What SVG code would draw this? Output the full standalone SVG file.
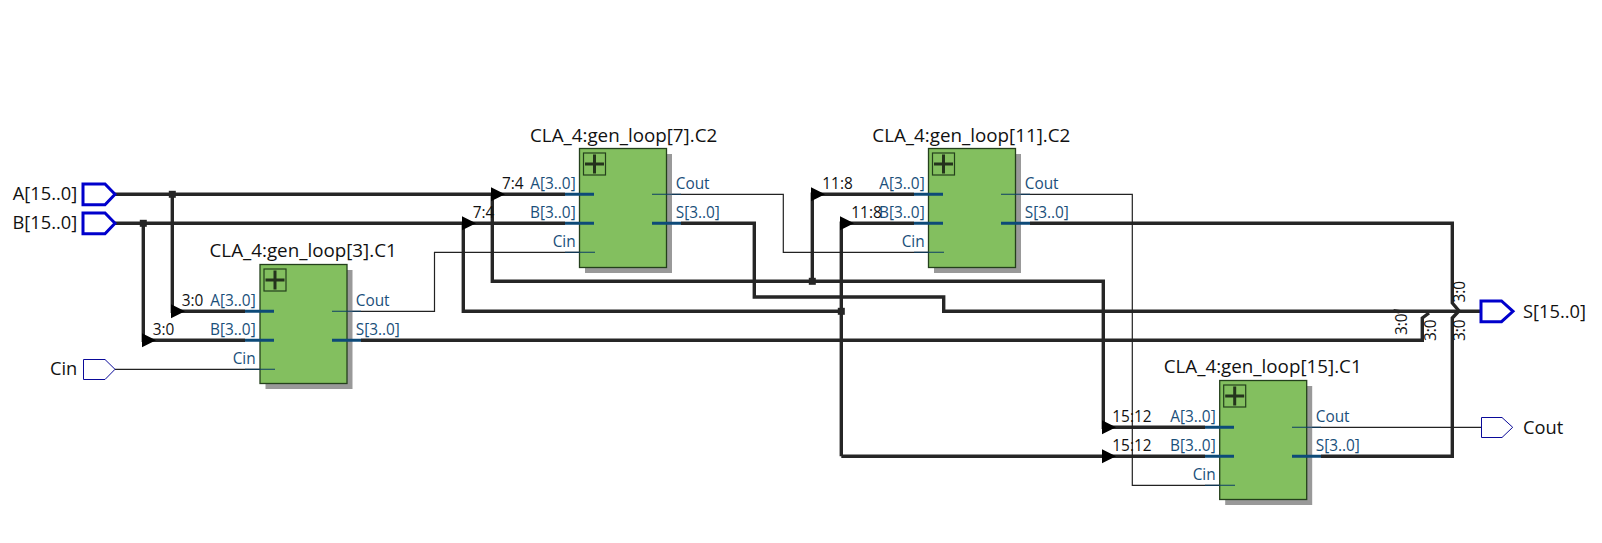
<svg xmlns="http://www.w3.org/2000/svg" width="1602" height="543" viewBox="0 0 1602 543">
<style>
text{font-family:"Open Sans","Noto Sans","Liberation Sans",sans-serif}
.t{font-size:18.8px;fill:#111}
.pl{font-size:18.3px;fill:#111}
.n{font-size:15.4px;fill:#111}
.p{font-size:15.4px;fill:#1a4f7a}
.e{text-anchor:end}
.blk{fill:#83bf5f;stroke:#24401c;stroke-width:1.3}
.sh{fill:#999}
.box{fill:none;stroke:#24401c;stroke-width:1.2}
.plus{stroke:#24331c;stroke-width:3;fill:none}
.stub{stroke:#0d4a78;stroke-width:3;fill:none}
.thin{stroke:#0d3f66;stroke-width:1.1;fill:none}
.w{stroke:#262626;stroke-width:3.4;fill:none}
.tw{stroke:#222;stroke-width:1.2;fill:none}
.pb{fill:#fff;stroke:#0000cc;stroke-width:3}
.ps{fill:#fff;stroke:#0a0a99;stroke-width:1}
.a{fill:#000}
.dot{fill:#262626}
</style>
<defs>
<g id="core">
<rect class="sh" x="5.500" y="5.500" width="87" height="119"/>
<rect class="blk" width="87" height="119"/>
<rect class="box" x="4" y="4.500" width="22" height="22"/>
<path class="plus" d="M5.500 15.500H24.500M15 6V25"/>
</g>
<path id="arr" class="a" d="M0-7L14 0L0 7Z"/>
<rect id="d" class="dot" x="-3.500" y="-3.500" width="7" height="7"/>
</defs>
<g id="connectors">
<path class="w" d="M115 194.300H492.300M115 223.300H463.300"/>
<path class="w" d="M172.300 194.300V311.300H245M143.300 223.300V340.300H245"/>
<path class="w" d="M492.300 194.300H565M492.300 194.300V281.300H1103.300V427.300H1205M812.300 281.300V194.300H914"/>
<path class="w" d="M463.300 223.300H565M463.300 223.300V311.300H841.300M841.300 456.300V223.300H914M841.300 456.300H1205"/>
<path class="w" d="M681 223.300H754.300V297H943.700V311.300H1481"/>
<path class="w" d="M361 340.300H1422.300V318L1429 313"/>
<path class="w" d="M1393.500 310.800L1399.500 311.800"/>
<path class="w" d="M1030 223.300H1452.300V303L1459 311L1452.300 318V456.300H1321"/>
<path class="tw" d="M332 311.300H434.500V252.300H595M652 194.300H783.300V252.300H943.700M1001 194.300H1132.300V485.300H1233.700M1292 427.300H1481"/>
<path class="tw" d="M115 369.300H275"/>
<use href="#d" x="172.300" y="194.300"/>
<use href="#d" x="143.300" y="223.300"/>
<use href="#d" x="812.300" y="281.300"/>
<use href="#d" x="841.300" y="311.300"/>
<use href="#arr" x="171" y="311.300"/>
<use href="#arr" x="142" y="340.300"/>
<use href="#arr" x="491" y="194.300"/>
<use href="#arr" x="462" y="223.300"/>
<use href="#arr" x="811" y="194.300"/>
<use href="#arr" x="840" y="223.300"/>
<use href="#arr" x="1102" y="427.300"/>
<use href="#arr" x="1102" y="456.300"/>
</g>
<g id="port-a"><path class="pb" d="M83 184H105L115 194.300L105 204.700H83Z"/><text class="pl e" x="77.300" y="200">A[15..0]</text></g>
<g id="port-b"><path class="pb" d="M83 213H105L115 223.300L105 233.700H83Z"/><text class="pl e" x="77.300" y="229">B[15..0]</text></g>
<g id="port-cin"><path class="ps" d="M83.500 359.500H105L115 369.300L105 379.500H83.500Z"/><text class="pl e" x="77.300" y="375">Cin</text></g>
<g id="port-s"><path class="pb" d="M1481 301H1501.500L1513 311.300L1501.500 321.700H1481Z"/><text class="pl" x="1523" y="317.500">S[15..0]</text></g>
<g id="port-cout"><path class="ps" d="M1481.500 417.500H1502L1512.700 427.300L1502 437.500H1481.500Z"/><text class="pl" x="1523" y="433.500">Cout</text></g>
<g id="c1">
<text class="t" x="209.500" y="256.700">CLA_4:gen_loop[3].C1</text>
<use href="#core" x="260" y="264.500"/>
<path class="stub" d="M245 311.300H274M245 340.300H274M332 340.300H361"/>
<path class="thin" d="M245 369.300H275M332 311.300H361"/>
<text class="p e" x="255.700" y="305.700">A[3..0]</text><text class="p e" x="255.700" y="334.700">B[3..0]</text><text class="p e" x="255.700" y="363.500">Cin</text>
<text class="p" x="355.700" y="305.700">Cout</text><text class="p" x="355.700" y="334.700">S[3..0]</text>
<text class="n" x="181.700" y="305.700">3:0</text><text class="n" x="152.700" y="334.700">3:0</text>
</g>
<g id="c2">
<text class="t" x="530" y="141.700">CLA_4:gen_loop[7].C2</text>
<use href="#core" x="579.500" y="148.500"/>
<path class="stub" d="M565 194.300H594M565 223.300H594M652 223.300H681"/>
<path class="thin" d="M565 252.300H595M652 194.300H681"/>
<text class="p e" x="575.700" y="188.700">A[3..0]</text><text class="p e" x="575.700" y="217.700">B[3..0]</text><text class="p e" x="575.700" y="246.500">Cin</text>
<text class="p" x="675.700" y="188.700">Cout</text><text class="p" x="675.700" y="217.700">S[3..0]</text>
<text class="n" x="502" y="189">7:4</text><text class="n" x="472.700" y="218">7:4</text>
</g>
<g id="c3">
<text class="t" x="872.300" y="141.700">CLA_4:gen_loop[11].C2</text>
<use href="#core" x="928.500" y="148.500"/>
<path class="stub" d="M914 194.300H943M914 223.300H943M1001 223.300H1030"/>
<path class="thin" d="M914 252.300H944M1001 194.300H1030"/>
<text class="p e" x="924.700" y="188.700">A[3..0]</text><text class="p e" x="924.700" y="217.700">B[3..0]</text><text class="p e" x="924.700" y="246.500">Cin</text>
<text class="p" x="1024.700" y="188.700">Cout</text><text class="p" x="1024.700" y="217.700">S[3..0]</text>
<text class="n" x="822.300" y="189">11:8</text><text class="n" x="851.300" y="218">11:8</text>
</g>
<g id="c4">
<text class="t" x="1163.700" y="373.300">CLA_4:gen_loop[15].C1</text>
<use href="#core" x="1219.700" y="380.500"/>
<path class="stub" d="M1205 427.300H1234M1205 456.300H1234M1292 456.300H1321"/>
<path class="thin" d="M1205 485.300H1235M1292 427.300H1321"/>
<text class="p e" x="1215.700" y="421.700">A[3..0]</text><text class="p e" x="1215.700" y="450.700">B[3..0]</text><text class="p e" x="1215.700" y="479.500">Cin</text>
<text class="p" x="1315.700" y="421.700">Cout</text><text class="p" x="1315.700" y="450.700">S[3..0]</text>
<text class="n" x="1112.300" y="421.700">15:12</text><text class="n" x="1112.300" y="450.700">15:12</text>
</g>
<g id="bus-labels">
<text class="n" transform="translate(1407 335) rotate(-90)">3:0</text>
<text class="n" transform="translate(1436 341) rotate(-90)">3:0</text>
<text class="n" transform="translate(1465 302.500) rotate(-90)">3:0</text>
<text class="n" transform="translate(1465 341) rotate(-90)">3:0</text>
</g>
</svg>
